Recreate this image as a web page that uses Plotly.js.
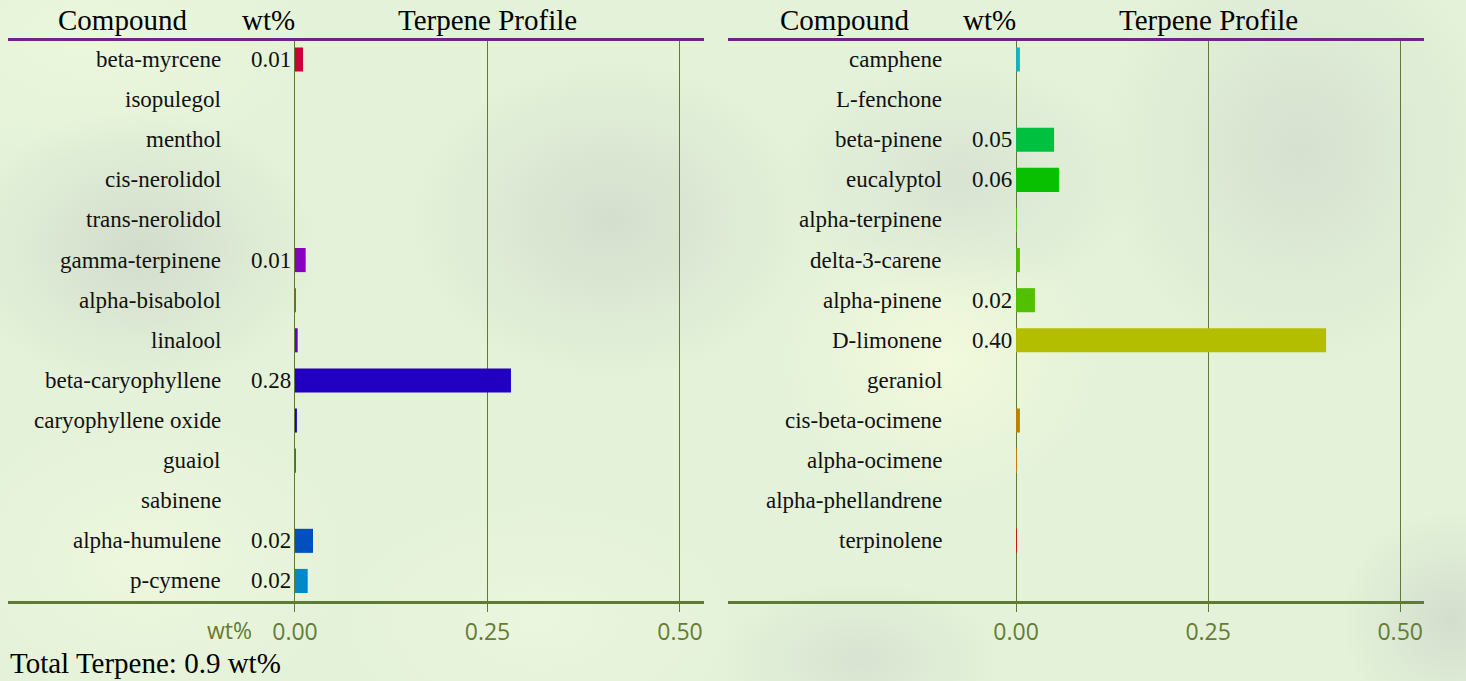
<!DOCTYPE html>
<html>
<head>
<meta charset="utf-8">
<script src="https://cdn.plot.ly/plotly-3.0.1.min.js"></script>
<style>
html, body { margin: 0; padding: 0; width: 1466px; height: 681px; overflow: hidden; }
body {
  background-color: #e4f2d9;
  background-image:
    radial-gradient(ellipse 180px 140px at 140px 250px, rgba(204,214,200,0.75), rgba(204,214,200,0) 100%),
    radial-gradient(ellipse 200px 160px at 610px 220px, rgba(207,216,202,0.75), rgba(207,216,202,0) 100%),
    radial-gradient(ellipse 200px 220px at 1300px 150px, rgba(206,216,202,0.65), rgba(206,216,202,0) 100%),
    radial-gradient(ellipse 110px 110px at 1450px 620px, rgba(204,214,200,0.7), rgba(204,214,200,0) 100%),
    radial-gradient(ellipse 140px 80px at 860px 660px, rgba(208,217,204,0.6), rgba(208,217,204,0) 100%),
    radial-gradient(ellipse 180px 120px at 960px 180px, rgba(210,220,206,0.65), rgba(210,220,206,0) 100%),
    radial-gradient(ellipse 160px 140px at 940px 360px, rgba(244,250,220,0.9), rgba(244,250,220,0) 100%),
    radial-gradient(ellipse 200px 150px at 150px 560px, rgba(238,248,222,0.9), rgba(238,248,222,0) 100%),
    radial-gradient(ellipse 220px 120px at 90px 40px, rgba(236,248,220,0.9), rgba(236,248,220,0) 100%),
    radial-gradient(ellipse 200px 120px at 540px 620px, rgba(236,247,222,0.8), rgba(236,247,222,0) 100%);
}
#chart { width: 1466px; height: 681px; }
</style>
</head>
<body>
<div id="chart"></div>
<script>
// ---- data ----
const leftNames = ["beta-myrcene","isopulegol","menthol","cis-nerolidol","trans-nerolidol","gamma-terpinene","alpha-bisabolol","linalool","beta-caryophyllene","caryophyllene oxide","guaiol","sabinene","alpha-humulene","p-cymene"];
const leftValues = [0.0104, 0, 0, 0, 0, 0.0139, 0.001, 0.0035, 0.2805, 0.0025, 0.001, 0, 0.0234, 0.0165];
const leftColors = ["#c8003c","#c0006a","#b00090","#a000a8","#9400b8","#8800c0","#7400c4","#6000c8","#2200c0","#1400c4","#0028c0","#0040c0","#0050c0","#0088c8"];

const rightNames = ["camphene","L-fenchone","beta-pinene","eucalyptol","alpha-terpinene","delta-3-carene","alpha-pinene","D-limonene","geraniol","cis-beta-ocimene","alpha-ocimene","alpha-phellandrene","terpinolene"];
const rightValues = [0.005, 0, 0.0495, 0.056, 0.001, 0.005, 0.0245, 0.4036, 0, 0.005, 0.001, 0, 0.001];
const rightColors = ["#10b4c4","#00b888","#00c040","#08c000","#50d000","#50c000","#50c000","#b4be00","#c0a000","#c08000","#e08000","#e04000","#e00000"];

const tickVals = [0, 0.25, 0.5];
const tickText = ["0.00", "0.25", "0.50"];
const headers = {compound: "Compound", wt: "wt%", profile: "Terpene Profile"};

// ---- styles ----
const olive = "#5f7a32";
const oliveText = "#647c38";
const purple = "#6e2683";
const serif = "Liberation Serif, Times New Roman, serif";
const W = 1466, H = 681;
const yDom = [1 - 601 / H, 1 - 39.5 / H];

function valueText(v) { return v >= 0.01 ? v.toFixed(2) : ""; }

const total = leftValues.concat(rightValues).reduce((a, b) => a + b, 0);

const traces = [
  {type: "bar", orientation: "h", x: leftValues, y: leftNames, xaxis: "x", yaxis: "y",
   marker: {color: leftColors, line: {width: 0}}, width: 0.6, hoverinfo: "skip", showlegend: false},
  {type: "bar", orientation: "h", x: rightValues, y: rightNames, xaxis: "x2", yaxis: "y2",
   marker: {color: rightColors, line: {width: 0}}, width: 0.6, hoverinfo: "skip", showlegend: false}
];

const annotations = [];
function panelAnnotations(names, values, xr, yr, withWt) {
  names.forEach((n, i) => {
    annotations.push({xref: xr, yref: yr, x: -0.0935, y: n, text: n, showarrow: false,
      xanchor: "right", yanchor: "middle", font: {family: serif, size: 23, color: "#111"}});
    const t = valueText(values[i]);
    if (t) annotations.push({xref: xr, yref: yr, x: -0.003, y: n, text: t, showarrow: false,
      xanchor: "right", yanchor: "middle", font: {family: serif, size: 23, color: "#111"}});
  });
  const hy = 1 - 20 / H;
  annotations.push({xref: xr, yref: "paper", x: -0.2234, y: hy, text: headers.compound, showarrow: false,
    xanchor: "center", yanchor: "middle", font: {family: serif, size: 29, color: "#000"}});
  annotations.push({xref: xr, yref: "paper", x: -0.034, y: hy, text: headers.wt, showarrow: false,
    xanchor: "center", yanchor: "middle", font: {family: serif, size: 29, color: "#000"}});
  annotations.push({xref: xr, yref: "paper", x: 0.25, y: hy, text: headers.profile, showarrow: false,
    xanchor: "center", yanchor: "middle", font: {family: serif, size: 29, color: "#000"}});
  if (withWt) {
    annotations.push({xref: xr, yref: "paper", x: -0.053, y: 1 - 630 / H, text: "wt%", showarrow: false,
      xanchor: "right", yanchor: "middle", font: {family: "Open Sans, sans-serif", size: 23, color: oliveText}});
  }
}
panelAnnotations(leftNames, leftValues, "x", "y", true);
panelAnnotations(rightNames, rightValues, "x2", "y2", false);
annotations.push({xref: "paper", yref: "paper", x: 8 / W, y: 1 - 663 / H,
  text: "Total Terpene: " + total.toFixed(1) + " wt%", showarrow: false,
  xanchor: "left", yanchor: "middle", font: {family: serif, size: 29, color: "#000"}});

function xAxis(domain, range, anchor) {
  return {domain: domain, range: range, anchor: anchor, tickvals: tickVals, ticktext: tickText,
    showgrid: true, gridcolor: olive, gridwidth: 1, zeroline: false,
    showline: true, linecolor: olive, linewidth: 3,
    ticks: "outside", ticklen: 8, tickwidth: 1, tickcolor: olive,
    tickfont: {family: "Open Sans, sans-serif", size: 23, color: oliveText},
    fixedrange: true};
}
function yAxis(domain, anchor, names) {
  return {domain: domain, anchor: anchor, type: "category", categoryorder: "array", categoryarray: names,
    range: [13.5, -0.5], showticklabels: false, showgrid: false, zeroline: false, showline: false,
    ticks: "", fixedrange: true};
}

const layout = {
  width: W, height: H,
  margin: {l: 0, r: 0, t: 0, b: 0, pad: 0},
  paper_bgcolor: "rgba(0,0,0,0)", plot_bgcolor: "rgba(0,0,0,0)",
  bargap: 0.4,
  xaxis: xAxis([8 / W, 704 / W], [-0.3727, 0.5312], "y"),
  yaxis: yAxis(yDom, "x", leftNames),
  xaxis2: xAxis([728 / W, 1424 / W], [-0.375, 0.531], "y2"),
  yaxis2: yAxis(yDom, "x2", rightNames),
  shapes: [
    {type: "line", xref: "x domain", yref: "paper", x0: 0, x1: 1, y0: yDom[1], y1: yDom[1], line: {color: purple, width: 3}, layer: "above"},
    {type: "line", xref: "x2 domain", yref: "paper", x0: 0, x1: 1, y0: yDom[1], y1: yDom[1], line: {color: purple, width: 3}, layer: "above"}
  ],
  annotations: annotations,
  showlegend: false
};

Plotly.newPlot("chart", traces, layout, {displayModeBar: false, staticPlot: true});
</script>
</body>
</html>
